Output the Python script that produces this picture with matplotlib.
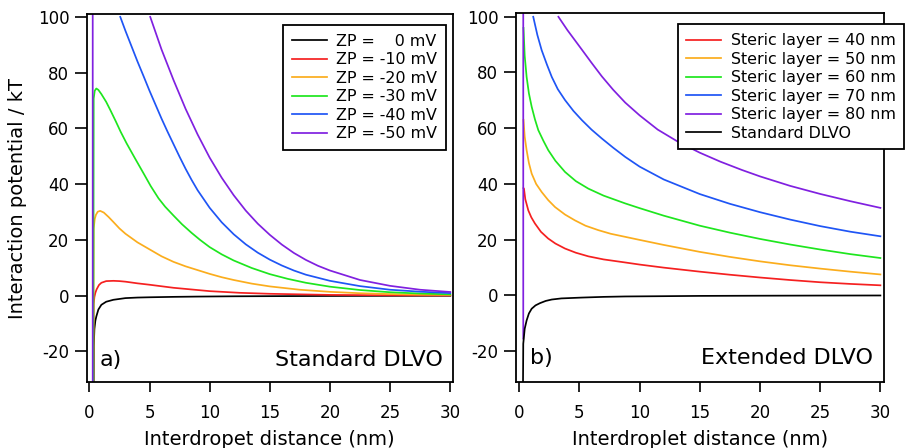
import numpy as np
import matplotlib.pyplot as plt

plt.rcParams['font.family'] = 'DejaVu Sans'
plt.rcParams['axes.unicode_minus'] = False
nan = np.nan

# ---------- panel a) standard DLVO, curves for each zeta potential (read off the plot)
zp_labels = ['ZP =    0 mV', 'ZP = -10 mV', 'ZP = -20 mV', 'ZP = -30 mV', 'ZP = -40 mV', 'ZP = -50 mV']

x_zp0 = [0.36, 0.37, 0.42, 0.5, 0.58, 0.75, 1.0, 1.4, 2.0, 3.0, 4.0, 5.0, 7.0, 9.0, 12, 15, 20, 25, 30]
y_zp0 = [-31, -18, -12, -9, -7.5, -5, -3.3, -2.2, -1.5, -0.9, -0.7, -0.6, -0.45, -0.35, -0.25, -0.2, -0.13, -0.08, -0.05]

x_zp10 = [0.33, 0.36, 0.42, 0.5, 0.6, 0.8, 1.0, 1.4, 2.0, 2.5, 3, 4, 5, 7, 10, 12.5, 15, 20, 25, 30]
y_zp10 = [-31, -3, -0.5, 1.0, 2.2, 3.8, 4.6, 5.2, 5.3, 5.2, 5.0, 4.4, 3.9, 2.8, 1.6, 1.0, 0.65, 0.25, 0.12, 0.05]

x_zp20 = [0.33, 0.36, 0.45, 0.55, 0.7, 0.9, 1.2, 1.6, 2.0, 2.5, 3, 4, 5, 6, 7, 8, 10, 11, 12, 13.5, 15, 17.5,
          20, 22.5, 25, 27.5, 30]
y_zp20 = [-31, 24, 27.5, 29, 30.1, 30.4, 29.8, 28.2, 26.4, 24.1, 22.2, 19.1, 16.6, 14.1, 12.1, 10.5, 7.8, 6.6, 5.6, 4.3,
          3.3, 2.1, 1.35, 0.85, 0.55, 0.35, 0.25]

x_zp30 = [0.33, 0.36, 0.45, 0.58, 0.75, 1.0, 1.4, 1.74, 2.2, 2.6, 3.1, 3.8, 4.5, 5.1, 5.75, 6.3, 7, 7.7, 8.5, 9.2,
          10, 11, 12, 13.5, 15, 16.5, 18, 20, 22.5, 25, 27.5, 30]
y_zp30 = [-31, 70.7, 73.5, 74.3, 73.8, 72.3, 69.5, 66.6, 62.5, 58.8, 54.6, 49.2, 43.9, 39.3, 34.9, 31.9, 28.7, 25.6,
          22.5, 20, 17.4, 14.8, 12.6, 9.9, 7.7, 6.0, 4.6, 3.2, 2.0, 1.2, 0.75, 0.45]

x_zp40 = [2.57, 3, 3.5, 4, 4.5, 5, 5.5, 6, 6.5, 7, 7.5, 8, 8.5, 9, 10, 11, 12, 13, 14, 15, 16, 17, 18, 20,
          22.5, 25, 27.5, 30]
y_zp40 = [100, 95, 89.5, 84, 78.8, 73.5, 68.5, 63.5, 58.8, 54.3, 49.8, 45.5, 41.5, 37.8, 31.5, 26.3, 22, 18.4, 15.4,
          12.9, 10.8, 9.0, 7.5, 5.3, 3.4, 2.1, 1.4, 0.9]

x_zp50 = [0.28, 0.28, nan, 5.06, 6, 7, 8, 9, 10, 11, 12, 13, 14, 15, 16, 17, 18, 19, 20, 22.5, 25, 27.5, 30]
y_zp50 = [-31, 102, nan, 100, 88.3, 77.3, 67, 57.8, 49.5, 42.3, 36, 30.5, 25.8, 21.8, 18.3, 15.3, 12.8, 10.7, 9.0,
          5.6, 3.5, 2.1, 1.3]

# ---------- panel b) extended DLVO, curves for each steric layer thickness
st_labels = ['Steric layer = 40 nm', 'Steric layer = 50 nm', 'Steric layer = 60 nm',
             'Steric layer = 70 nm', 'Steric layer = 80 nm', 'Standard DLVO']

x_st40 = [0.35, 0.39, 0.5, 0.75, 1.0, 1.3, 1.8, 2.4, 3.0, 3.8, 4.7, 5.74, 7, 8.8, 10, 12, 15, 17.5, 20, 22.5,
          25, 27.5, 30]
y_st40 = [38.5, 38.3, 34.5, 30.5, 28, 25.8, 22.8, 20.4, 18.6, 16.8, 15.3, 14.0, 12.9, 11.8, 11.05, 9.95, 8.5, 7.4,
          6.4, 5.5, 4.7, 4.1, 3.6]

x_st50 = [0.35, 0.45, 0.61, 0.8, 1.03, 1.4, 1.86, 2.4, 2.97, 3.8, 4.63, 5.5, 6.57, 7.6, 8.8, 10, 12, 15, 17.5,
          20, 22.5, 25, 27.5, 30]
y_st50 = [63, 57, 52.1, 47.5, 43.7, 40.0, 37.1, 34.2, 31.7, 29.0, 26.9, 25.0, 23.4, 22.1, 21.0, 19.9, 18.1, 15.6,
          13.8, 12.2, 10.8, 9.6, 8.5, 7.5]

x_st60 = [0.35, 0.45, 0.61, 0.8, 1.03, 1.3, 1.58, 2.0, 2.41, 3.0, 3.8, 4.7, 5.74, 7, 8.8, 10, 12, 15, 17.5, 20,
          22.5, 25, 27.5, 30]
y_st60 = [96, 86, 78.4, 72.5, 67.7, 63.2, 59.3, 55.5, 52.1, 48.3, 44.3, 41.0, 38.3, 35.8, 33.0, 31.3, 28.6, 25.0,
          22.5, 20.25, 18.25, 16.45, 14.8, 13.4]

x_st70 = [1.16, 1.5, 1.86, 2.3, 2.7, 3.2, 3.8, 4.5, 5.2, 6.0, 6.86, 7.8, 8.8, 10, 12, 15, 17.5, 20, 22.5, 25,
          27.5, 30]
y_st70 = [100, 93.5, 88, 82.8, 78.4, 74.0, 70.1, 66.2, 62.9, 59.5, 56.3, 53.0, 49.7, 46.2, 41.6, 36.35, 32.85,
          29.85, 27.2, 24.85, 22.85, 21.2]

x_st80 = [0.33, 0.33, nan, 3.25, 4.0, 4.6, 5.2, 6.0, 6.86, 7.8, 8.8, 10, 11.5, 13.2, 15, 16.7, 18.5, 20, 22.5,
          25, 27.5, 30]
y_st80 = [-15.5, 102, nan, 100, 95.2, 91.7, 88.2, 83.5, 78.6, 73.8, 69.2, 64.6, 59.5, 55.1, 51.2, 48.0, 45.0,
          42.7, 39.3, 36.4, 33.8, 31.4]

x_std = [0.31, 0.32, 0.33, 0.45, 0.61, 0.8, 1.03, 1.35, 1.72, 2.2, 2.7, 3.5, 5.2, 7, 8.8, 12, 15, 20, 25, 30]
y_std = [-31, -25, -17.4, -12, -9.0, -6.5, -4.8, -3.6, -2.8, -2.0, -1.5, -1.1, -0.8, -0.55, -0.4, -0.3, -0.2,
         -0.13, -0.08, -0.05]

colors_a = ['black', '#f52020', '#fbad1d', '#1ee61e', '#1f55f5', '#8020e0']
colors_b = ['#f52020', '#fbad1d', '#1ee61e', '#1f55f5', '#8020e0', 'black']

fig = plt.figure(figsize=(9.05, 4.48), dpi=100)
ax1 = fig.add_axes([0.0958, 0.1473, 0.4044, 0.8225])
ax2 = fig.add_axes([0.5698, 0.148, 0.407, 0.822])

curves_a = [(x_zp0, y_zp0), (x_zp10, y_zp10), (x_zp20, y_zp20),
            (x_zp30, y_zp30), (x_zp40, y_zp40), (x_zp50, y_zp50)]
for (x, y), c, lab in zip(curves_a, colors_a, zp_labels):
    ax1.plot(x, y, color=c, lw=1.25, label=lab)

curves_b = [(x_st40, y_st40), (x_st50, y_st50), (x_st60, y_st60),
            (x_st70, y_st70), (x_st80, y_st80), (x_std, y_std)]
for (x, y), c, lab in zip(curves_b, colors_b, st_labels):
    ax2.plot(x, y, color=c, lw=1.25, label=lab)

for ax in (ax1, ax2):
    ax.set_xlim(-0.22, 30.2)
    ax.set_ylim(-31, 101.2)
    ax.set_xticks([0, 5, 10, 15, 20, 25, 30])
    ax.set_yticks([-20, 0, 20, 40, 60, 80, 100])
    for s in ax.spines.values():
        s.set_linewidth(1.3)
    ax.tick_params(axis='y', direction='out', length=8.5, width=1.2, pad=4, labelsize=12)
    ax.tick_params(axis='x', direction='out', length=7.5, width=1.2, pad=8.5, labelsize=12)
ax2.set_xlim(-0.3, 30.3)

ax1.set_ylabel('Interaction potential / kT', fontsize=14, ha='center', va='center')
ax1.yaxis.set_label_coords(-0.19, 0.497)
ax1.set_xlabel('Interdropet distance (nm)', fontsize=14, va='baseline')
ax1.xaxis.set_label_coords(0.5, -0.171)
ax2.set_xlabel('Interdroplet distance (nm)', fontsize=14, va='baseline')
ax2.xaxis.set_label_coords(0.5, -0.171)

ax1.text(0.036, 0.043, 'a)', transform=ax1.transAxes, fontsize=16, va='baseline')
ax1.text(0.973, 0.043, 'Standard DLVO', transform=ax1.transAxes, fontsize=16, ha='right', va='baseline')
ax2.text(0.039, 0.048, 'b)', transform=ax2.transAxes, fontsize=16, va='baseline')
ax2.text(0.971, 0.048, 'Extended DLVO', transform=ax2.transAxes, fontsize=16, ha='right', va='baseline')

leg_kw = dict(loc='upper right', fontsize=11.4, fancybox=False, framealpha=1, edgecolor='black',
              handlelength=2.2, handletextpad=0.6, borderpad=0.55, labelspacing=0.22, borderaxespad=0)
leg1 = ax1.legend(bbox_to_anchor=(0.981, 0.969), **leg_kw)
leg2 = ax2.legend(bbox_to_anchor=(1.055, 0.970), **leg_kw)
for leg in (leg1, leg2):
    leg.get_frame().set_linewidth(1.3)

fig.savefig('out.png', dpi=100)
